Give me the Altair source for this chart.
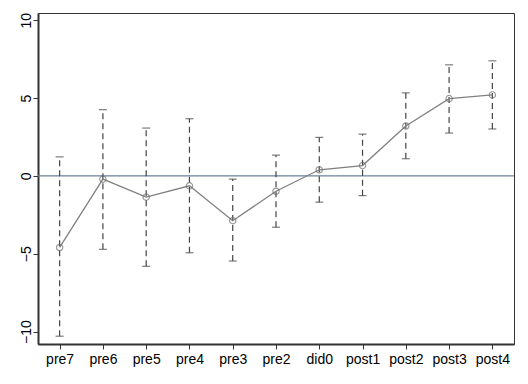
import altair as alt
import pandas as pd

labels = ["pre7", "pre6", "pre5", "pre4", "pre3", "pre2", "did0", "post1", "post2", "post3", "post4"]
coef = [-4.6, -0.21, -1.37, -0.64, -2.88, -0.99, 0.39, 0.66, 3.2, 4.96, 5.2]
upper = [1.22, 4.25, 3.07, 3.67, -0.21, 1.33, 2.47, 2.68, 5.33, 7.13, 7.39]
lower = [-10.3, -4.72, -5.81, -4.94, -5.47, -3.3, -1.69, -1.27, 1.1, 2.75, 3.01]
yticks = [-10, -5, 0, 5, 10]

df = pd.DataFrame({"pos": list(range(1, len(labels) + 1)), "label": labels,
                   "coef": coef, "upper": upper, "lower": lower})
zero = pd.DataFrame({"y": [0]})

label_expr = "[" + ",".join("'" + l + "'" for l in labels) + "][datum.value - 1]"

xscale = alt.Scale(domain=[0.5, len(labels) + 0.5], nice=False, zero=False)
yscale = alt.Scale(domain=[-10.8, 10.46], nice=False, zero=False)

xax = alt.Axis(values=list(range(1, len(labels) + 1)), labelExpr=label_expr, title=None,
               grid=False, domainColor="#333333", domainWidth=2, tickColor="#333333",
               tickSize=5, labelFont="Liberation Sans", labelFontSize=14,
               labelColor="#000000", labelPadding=3)
yax = alt.Axis(values=yticks, title=None, grid=False, domainColor="#333333", domainWidth=2,
               tickColor="#333333", tickSize=5, labelAngle=270, labelAlign="center",
               labelBaseline="middle", labelFont="Liberation Sans", labelFontSize=14,
               labelColor="#000000", labelPadding=7)

base = alt.Chart(df)

zline = alt.Chart(zero).mark_rule(color="#6a819a", strokeWidth=1.2).encode(
    y=alt.Y("y:Q", scale=yscale, axis=yax))

bars = base.mark_rule(color="#444444", strokeWidth=1.2, strokeDash=[6, 4]).encode(
    x=alt.X("pos:Q", scale=xscale, axis=xax),
    y=alt.Y("lower:Q", scale=yscale),
    y2="upper:Q")

cap_hi = base.mark_tick(color="#444444", orient="horizontal", size=8, thickness=1.2).encode(
    x=alt.X("pos:Q", scale=xscale), y=alt.Y("upper:Q", scale=yscale))
cap_lo = base.mark_tick(color="#444444", orient="horizontal", size=8, thickness=1.2).encode(
    x=alt.X("pos:Q", scale=xscale), y=alt.Y("lower:Q", scale=yscale))

line = base.mark_line(color="#808080", strokeWidth=1.3).encode(
    x=alt.X("pos:Q", scale=xscale), y=alt.Y("coef:Q", scale=yscale))
pts = base.mark_point(shape="circle", filled=False, color="#707070", size=40, strokeWidth=1.2).encode(
    x=alt.X("pos:Q", scale=xscale), y=alt.Y("coef:Q", scale=yscale))

chart = alt.layer(zline, bars, cap_hi, cap_lo, line, pts).properties(
    width=476, height=331,
    autosize=alt.AutoSizeParams(type="none"),
    padding={"left": 30, "top": 5, "right": 6, "bottom": 30},
    background="white",
).configure_view(stroke="#333333", strokeWidth=1)

chart.save("out.html", embed_options={"renderer": "svg", "actions": False})
